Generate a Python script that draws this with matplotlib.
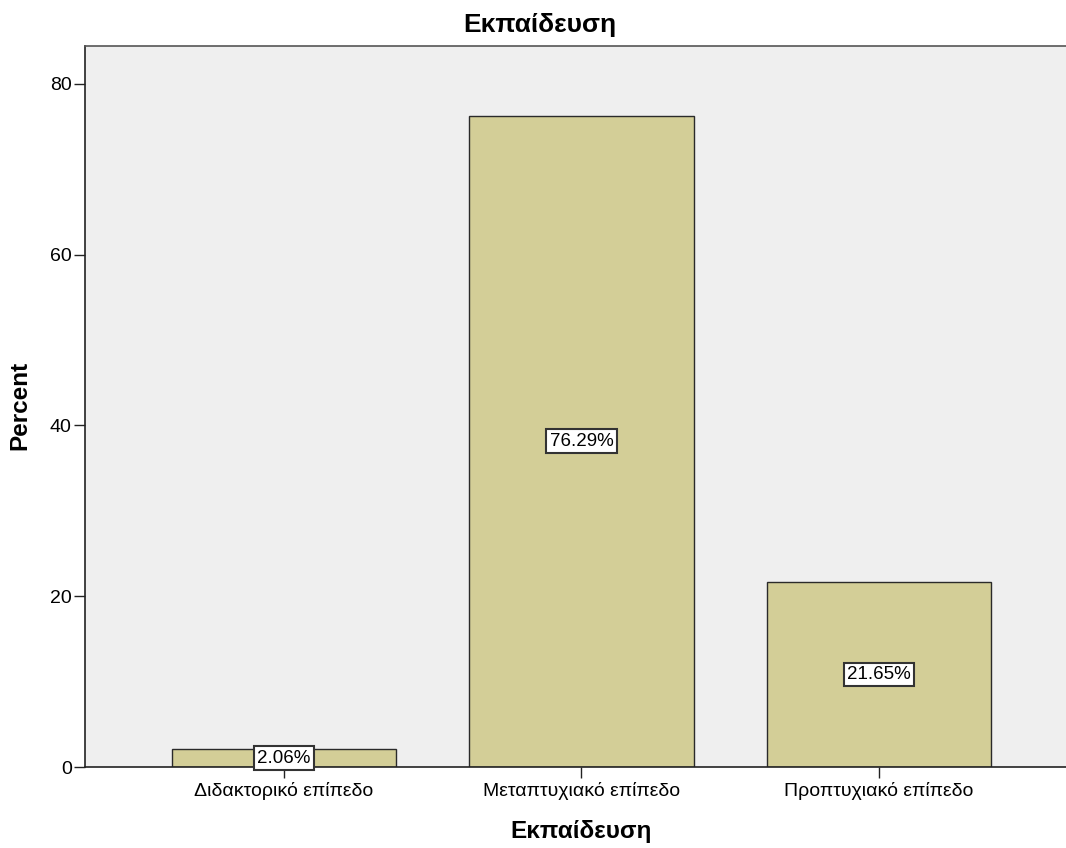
import matplotlib
matplotlib.use("Agg")
import matplotlib.pyplot as plt

plt.rcParams['font.family'] = ['Liberation Sans', 'DejaVu Sans']

categories = ["Διδακτορικό επίπεδο", "Μεταπτυχιακό επίπεδο", "Προπτυχιακό επίπεδο"]
percent = [2.06, 76.29, 21.65]
yticks = [0, 20, 40, 60, 80]

W, H = 1066, 848
fig = plt.figure(figsize=(W / 100, H / 100), dpi=100)
left, right, top, bottom = 85, 1078, 46, 767
ax = fig.add_axes([left / W, 1 - bottom / H, (right - left) / W, (bottom - top) / H])
ax.set_facecolor('#EFEFEF')

x = list(range(len(categories)))
ax.bar(x, percent, width=0.753, color='#D3CE97', edgecolor='#2a2a2a', linewidth=1.0, zorder=2)

for xi, v in zip(x, percent):
    ax.text(xi, v / 2, f"{v:.2f}%", ha='center', va='center', fontsize=13.5, zorder=4,
            bbox=dict(boxstyle='square,pad=0.18', facecolor='white', edgecolor='#333333', linewidth=1.5))

ax.set_xlim(-0.669, 2.669)
ax.set_ylim(0, 84.45)
ax.set_xticks(x)
ax.set_xticklabels(categories, fontsize=14)
ax.set_yticks(yticks)
ax.set_yticklabels([str(t) for t in yticks], fontsize=14)
ax.tick_params(axis='both', direction='out', length=8, width=1, color='#222222')
ax.tick_params(axis='x', pad=3)
ax.tick_params(axis='y', pad=1.5)

for side in ['top', 'left', 'bottom']:
    ax.spines[side].set_color('#222222')
    ax.spines[side].set_linewidth(1.2)
ax.spines['top'].set_color('#555555')
ax.spines['right'].set_visible(False)

# axis titles and chart title placed in figure pixels
fig.text(20 / W, 1 - 405 / H, "Percent", rotation=90, ha='center', va='center',
         fontsize=17.5, fontweight='bold')
fig.text(581.5 / W, 1 - 838 / H, "Εκπαίδευση", ha='center', va='baseline',
         fontsize=17.5, fontweight='bold')
fig.text(539.5 / W, 1 - 32 / H, "Εκπαίδευση", ha='center', va='baseline',
         fontsize=19, fontweight='bold')

fig.savefig("out.png", dpi=100, facecolor='white')
